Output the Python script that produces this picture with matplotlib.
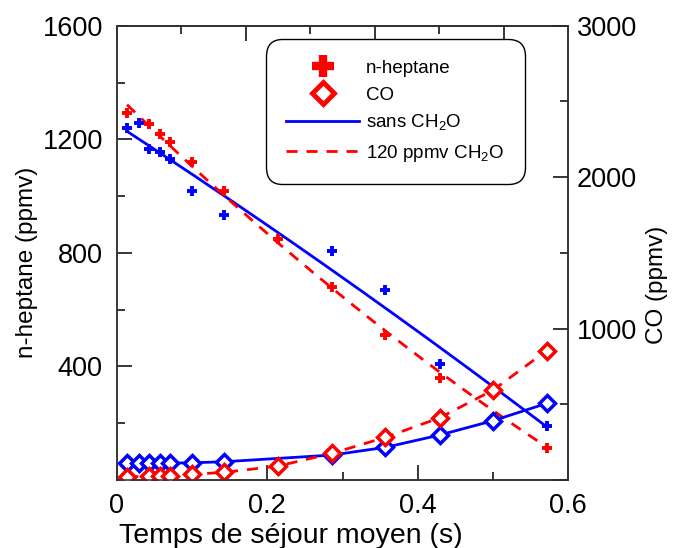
import matplotlib
matplotlib.use("Agg")
import numpy as np
import matplotlib.pyplot as plt
from matplotlib.lines import Line2D
from matplotlib.ticker import MultipleLocator, NullFormatter

plt.rcParams['font.family'] = ['Liberation Sans', 'DejaVu Sans']
plt.rcParams['mathtext.fontset'] = 'custom'
plt.rcParams['mathtext.rm'] = 'Liberation Sans'

# residence times (s)
x_sans = [0.014, 0.029, 0.043, 0.057, 0.071, 0.100, 0.143, 0.286, 0.357, 0.429, 0.500, 0.571]
x_120 = [0.014, 0.043, 0.057, 0.071, 0.100, 0.143, 0.214, 0.286, 0.357, 0.429, 0.500, 0.571]

# n-heptane (ppmv)
hept_sans = [1240, 1256, 1165, 1154, 1131, 1018, 933, 806, 669, 410, 310, 190]
hept_120 = [1291, 1253, 1218, 1191, 1121, 1019, 848, 679, 511, 358, 215, 112]

# CO (ppmv)
co_sans = [114, 114, 112, 112, 112, 114, 121, 165, 216, 297, 392, 506]
co_120 = [22, 24, 24, 26, 38, 51, 92, 176, 282, 411, 594, 854]

# n-heptane fitted curves
fit_sans_x = [0.0145, 0.151, 0.416, 0.571]
fit_sans_y = [1227, 986, 493, 188]
fit_120_x = [0.0137, 0.150, 0.2865, 0.376, 0.571]
fit_120_y = [1321, 986, 679, 481, 118]

blue = '#0000ff'
red = '#ff0000'


def smooth(xs, ys):
    c = np.polyfit(xs, ys, 2)
    xx = np.linspace(xs[0], xs[-1], 200)
    return xx, np.polyval(c, xx)


fig = plt.figure(figsize=(6.73, 5.48), dpi=100)
ax = fig.add_axes([0.1734, 0.124, 0.6711, 0.829])
ax2 = ax.twinx()

cross_kw = dict(marker='+', ms=7.5, mew=2.8, linestyle='none')
dia_kw = dict(marker='D', ms=8.2, mew=2.5, mfc='white')

ax.plot(*smooth(fit_sans_x, fit_sans_y), color=blue, lw=2)
ax.plot(*smooth(fit_120_x, fit_120_y), color=red, lw=2, dashes=(4, 3.2))
ax.plot(x_sans, hept_sans, color=blue, **cross_kw)
ax.plot(x_120, hept_120, color=red, **cross_kw)

ax2.plot(x_sans, co_sans, color=blue, lw=2, **dia_kw)
ax2.plot(x_120, co_120, color=red, lw=2, dashes=(4, 3.2), **dia_kw)

ax.set_xlim(0, 0.6)
ax.set_ylim(0, 1600)
ax2.set_ylim(0, 3000)

ax.xaxis.set_minor_locator(MultipleLocator(0.1))
ax.yaxis.set_minor_locator(MultipleLocator(200))
ax2.yaxis.set_minor_locator(MultipleLocator(500))

ax.set_xticks([0, 0.2, 0.4, 0.6])
ax.set_xticklabels(['0', '0.2', '0.4', '0.6'])
ax.set_yticks([0, 400, 800, 1200, 1600])
ax.set_yticklabels(['', '400', '800', '1200', '1600'])
ax2.set_yticks([0, 1000, 2000, 3000])
ax2.set_yticklabels(['', '1000', '2000', '3000'])

tick_fs = 19.5
for a in (ax, ax2):
    a.tick_params(which='major', direction='in', length=11, width=1.1, labelsize=tick_fs, pad=10)
    a.tick_params(which='minor', direction='in', length=5.5, width=1.1)
ax.tick_params(axis='x', which='major', pad=9)
ax2.tick_params(axis='y', which='major', pad=6)
ax.tick_params(axis='y', which='both', right=False)
ax.tick_params(axis='x', which='both', top=False)

for a in (ax, ax2):
    for s in a.spines.values():
        s.set_linewidth(1.1)
        s.set_color('#333333')

top = ax.secondary_xaxis('top', functions=(lambda v: v / 0.6 * 7, lambda v: v * 0.6 / 7))
top.xaxis.set_major_locator(MultipleLocator(2))
top.xaxis.set_minor_locator(MultipleLocator(1))
top.xaxis.set_major_formatter(NullFormatter())
top.tick_params(which='major', direction='in', length=11, width=1.1)
top.tick_params(which='minor', direction='in', length=5.5, width=1.1)
top.spines['top'].set_linewidth(1.1)

ax.set_xlabel('Temps de séjour moyen (s)', fontsize=20.5)
ax.set_ylabel('n-heptane (ppmv)', fontsize=17.5)
ax2.set_ylabel('CO (ppmv)', fontsize=17.5)
ax.xaxis.set_label_coords(0.385, -0.095)
ax.yaxis.set_label_coords(-0.175, 0.48)
ax2.yaxis.set_label_coords(1.172, 0.43)

handles = [
    Line2D([], [], color=red, marker='+', ms=16, mew=6, linestyle='none'),
    Line2D([], [], color=red, marker='D', ms=11, mew=3.5, mfc='white', linestyle='none'),
    Line2D([], [], color=blue, lw=2),
    Line2D([], [], color=red, lw=2, dashes=(4, 3.2)),
]
labels = ['n-heptane', 'CO', 'sans CH$_\\mathregular{2}$O', '120 ppmv CH$_\\mathregular{2}$O']
leg = ax2.legend(handles, labels, loc='upper left', bbox_to_anchor=(0.338, 0.962),
                 borderaxespad=0, fontsize=13.5, handlelength=3.9, handletextpad=0.35,
                 labelspacing=0.5, borderpad=0.9, fancybox=True, framealpha=1,
                 edgecolor='black')
leg.get_frame().set_linewidth(1.0)
leg.get_frame().set_boxstyle('round', pad=0.2, rounding_size=0.9)

fig.savefig('out.png', dpi=100)
